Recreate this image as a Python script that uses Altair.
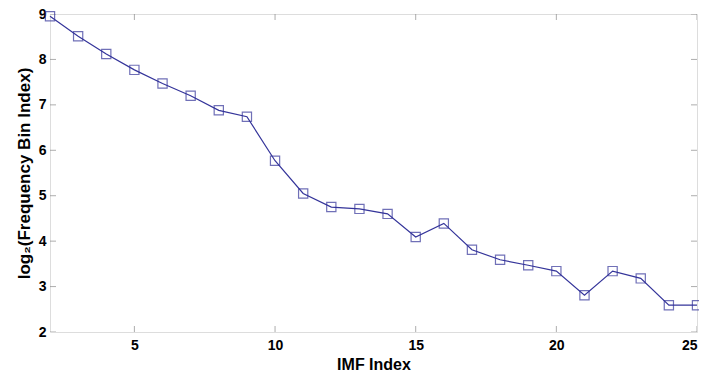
import altair as alt
import pandas as pd

imf_index = list(range(2, 26))
log2_bin = [8.95, 8.51, 8.12, 7.77, 7.47, 7.20, 6.88, 6.74, 5.77, 5.05,
            4.75, 4.71, 4.60, 4.09, 4.39, 3.81, 3.59, 3.47, 3.34, 2.81,
            3.34, 3.18, 2.59, 2.59]
x_ticks = [5, 10, 15, 20, 25]
y_ticks = [2, 3, 4, 5, 6, 7, 8, 9]

df = pd.DataFrame({"imf": imf_index, "val": log2_bin})
xt = pd.DataFrame({"t": x_ticks})
yt = pd.DataFrame({"t": y_ticks})

FONT = "Liberation Sans"
LINE = "#34349a"
GREY = "#8a8a8a"

xs = alt.Scale(domain=[2, 25], nice=False, zero=False)
ys = alt.Scale(domain=[2, 9], nice=False, zero=False)

xaxis = alt.Axis(values=x_ticks, title="IMF Index", domain=False, ticks=False, grid=False,
                 labelPadding=6, labelFontSize=14, labelFont=FONT, labelFontWeight="bold",
                 labelColor="black", titleFont=FONT, titleFontSize=16, titleFontWeight="bold",
                 titleColor="black", titlePadding=4)
yaxis = alt.Axis(values=y_ticks, title="log₂(Frequency Bin Index)", domain=False, ticks=False,
                 grid=False, labelPadding=4, labelFontSize=14, labelFont=FONT,
                 labelFontWeight="bold", labelColor="black", titleFont=FONT, titleFontSize=17,
                 titleFontWeight="bold", titleColor="black", titlePadding=5)

line = alt.Chart(df).mark_line(color=LINE, strokeWidth=1.2).encode(
    x=alt.X("imf:Q", scale=xs, axis=xaxis),
    y=alt.Y("val:Q", scale=ys, axis=yaxis),
)
pts = alt.Chart(df).mark_point(shape="square", size=85, filled=False, color=LINE,
                               strokeWidth=1.2).encode(
    x=alt.X("imf:Q", scale=xs), y=alt.Y("val:Q", scale=ys))

tick_style = dict(color=GREY, clip=True, thickness=1, size=12)
xt_bot = alt.Chart(xt).mark_tick(orient="vertical", **tick_style).encode(
    x=alt.X("t:Q", scale=xs), y=alt.datum(2))
xt_top = alt.Chart(xt).mark_tick(orient="vertical", **tick_style).encode(
    x=alt.X("t:Q", scale=xs), y=alt.datum(9))
yt_left = alt.Chart(yt).mark_tick(orient="horizontal", **tick_style).encode(
    y=alt.Y("t:Q", scale=ys), x=alt.datum(2))
yt_right = alt.Chart(yt).mark_tick(orient="horizontal", **tick_style).encode(
    y=alt.Y("t:Q", scale=ys), x=alt.datum(25))

chart = alt.layer(xt_bot, xt_top, yt_left, yt_right, line, pts).properties(
    width=647, height=318,
    autosize=alt.AutoSizeParams(type="none"),
    padding={"left": 42, "top": 6, "right": 2, "bottom": 40},
).configure_view(stroke=GREY, strokeWidth=1.2).configure(background="white")

chart.save("out.html", embed_options={"renderer": "svg", "actions": False})
